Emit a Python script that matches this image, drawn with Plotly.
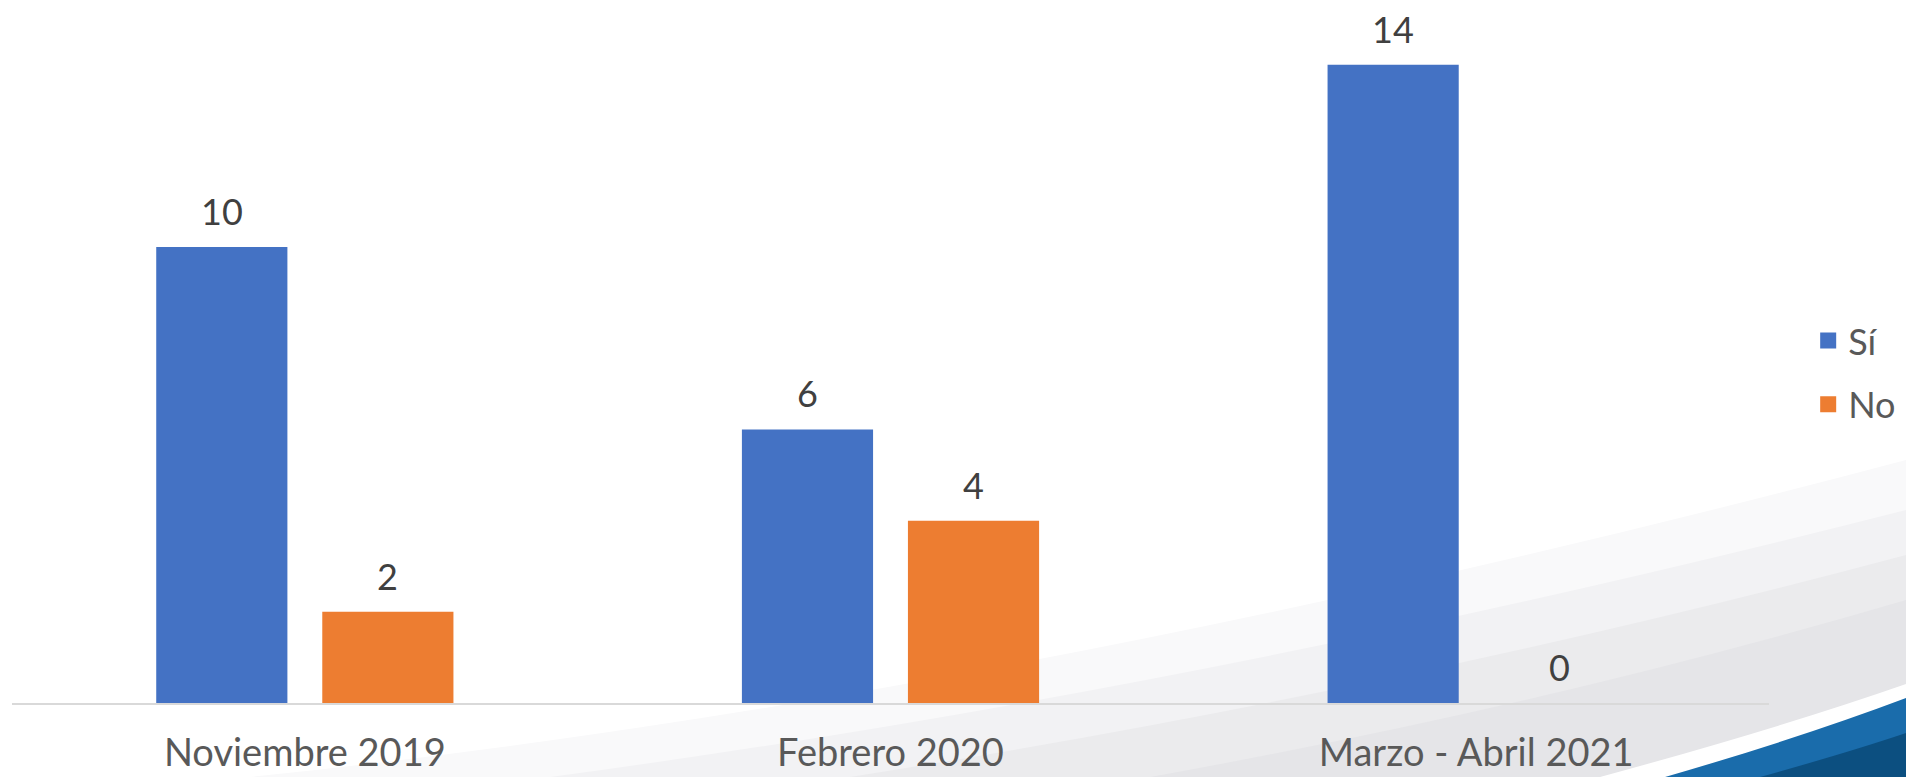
import plotly.graph_objects as go

categories = ["Noviembre 2019", "Febrero 2020", "Marzo - Abril 2021"]
si_values = [10, 6, 14]
no_values = [2, 4, 0]
series_names = ["Sí", "No"]
series_colors = ["#4472C4", "#ED7D31"]

W, H = 1906, 777
ML, MR, MT, MB = 12, 137, 0, 74
BARGAP = 0.433
BARGROUPGAP = 0.21
FONT = "Lato"

fig = go.Figure()
for name, vals, col in zip(series_names, [si_values, no_values], series_colors):
    fig.add_trace(go.Bar(x=categories, y=vals, name=name, marker_color=col,
                         marker_line_width=0, showlegend=False))
# legend entries with larger square swatches
for name, col, grp in zip(series_names, series_colors, ["a", "b"]):
    fig.add_trace(go.Scatter(x=[None], y=[None], mode="markers", name=name,
                             legendgroup=grp,
                             marker=dict(symbol="square", size=16, color=col)))

# data labels above bars, aligned with the grouped bar slots
offs = [-(1 - BARGAP) / 4, (1 - BARGAP) / 4]
for k, vals in enumerate([si_values, no_values]):
    for i, v in enumerate(vals):
        fig.add_annotation(x=i + offs[k], y=v, xref="x", yref="y", text=str(v),
                           showarrow=False, yanchor="bottom", yshift=12,
                           font=dict(family=FONT, size=36, color="#404040"))

pw = W - ML - MR
ph = H - MT - MB
def px(x, y):
    return (x - ML) / pw, (H - MB - y) / ph

def path(cmds):
    out = []
    for c in cmds:
        if c[0] == "Z":
            out.append("Z")
        elif c[0] == "Q":
            a = px(c[1], c[2]); b = px(c[3], c[4])
            out.append(f"Q{a[0]:.4f},{a[1]:.4f} {b[0]:.4f},{b[1]:.4f}")
        else:
            a = px(c[1], c[2])
            out.append(f"{c[0]}{a[0]:.4f},{a[1]:.4f}")
    return " ".join(out)

bg_shapes = [
    ([("M", 250, 777), ("Q", 1000, 700, 1906, 460), ("L", 1906, 777), ("Z",)], "#f9f9fa"),
    ([("M", 550, 777), ("Q", 1200, 690, 1906, 510), ("L", 1906, 777), ("Z",)], "#f2f2f4"),
    ([("M", 850, 777), ("Q", 1400, 690, 1906, 555), ("L", 1906, 777), ("Z",)], "#ebebed"),
    ([("M", 1150, 777), ("Q", 1550, 705, 1906, 600), ("L", 1906, 777), ("Z",)], "#e5e5e8"),
    ([("M", 1600, 777), ("Q", 1780, 728, 1906, 684), ("L", 1906, 777), ("Z",)], "#ffffff"),
    ([("M", 1665, 777), ("Q", 1800, 738, 1906, 698), ("L", 1906, 777), ("Z",)], "#1a6cab"),
    ([("M", 1760, 777), ("Q", 1850, 752, 1906, 733), ("L", 1906, 777), ("Z",)], "#0c4f80"),
]
for cmds, col in bg_shapes:
    fig.add_shape(type="path", path=path(cmds), xref="paper", yref="paper",
                  fillcolor=col, line_width=0, layer="below")

fig.update_layout(
    width=W, height=H,
    margin=dict(l=ML, r=MR, t=MT, b=MB, pad=0, autoexpand=False),
    paper_bgcolor="white", plot_bgcolor="rgba(0,0,0,0)",
    barmode="group", bargap=BARGAP, bargroupgap=BARGROUPGAP,
    font=dict(family=FONT, color="#595959", size=36),
    showlegend=True,
    legend=dict(x=1.0223, xanchor="left", y=0.47, yanchor="middle",
                font=dict(family=FONT, size=36, color="#595959"),
                bgcolor="rgba(0,0,0,0)", traceorder="grouped", tracegroupgap=14,
                itemwidth=30),
    xaxis=dict(showline=True, linecolor="#D9D9D9", linewidth=2, ticks="",
               showgrid=False, zeroline=False, ticklabelstandoff=15,
               automargin=False,
               tickfont=dict(family=FONT, size=38, color="#595959")),
    yaxis=dict(range=[0, 15.42], visible=False, showgrid=False, zeroline=False,
               automargin=False),
)

fig.write_html("out.html", config={"displayModeBar": False},
               post_script="document.body.style.margin='0';")
